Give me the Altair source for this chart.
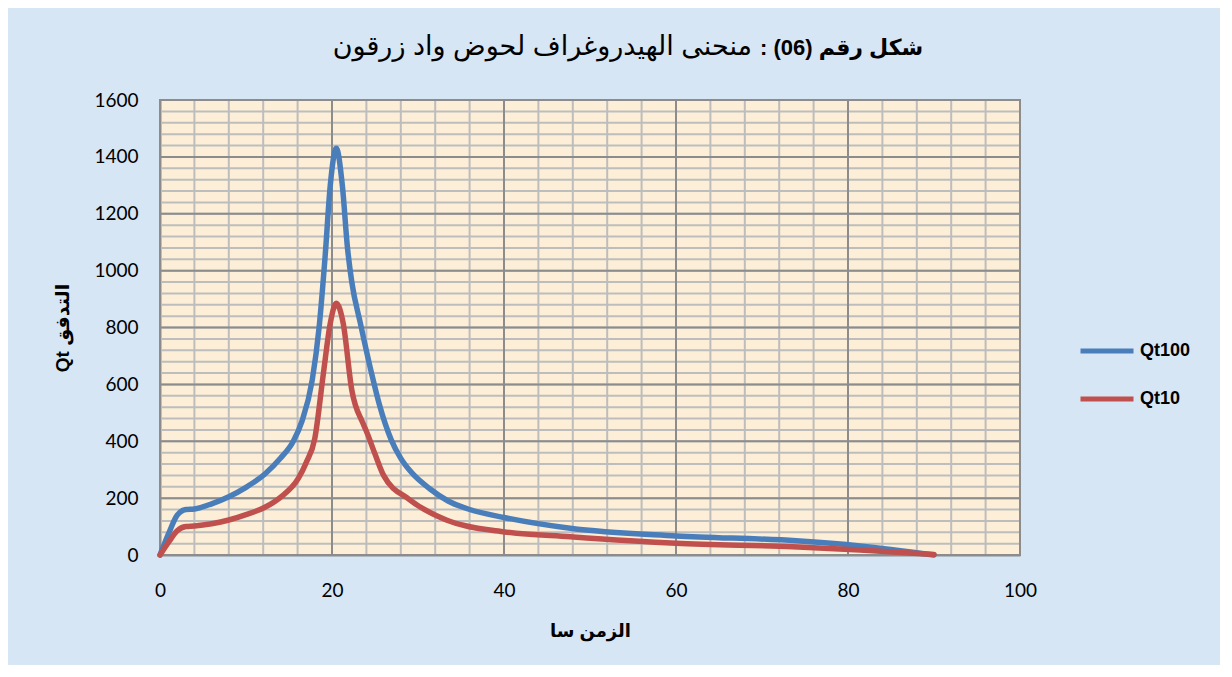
import altair as alt
import pandas as pd

# ---- data ----
t_q100 = [0, 1, 2, 3, 4, 6, 8, 10, 12.2, 14, 15.5, 16.5, 17.7, 18.5, 19.2, 19.8, 20.5, 21.2, 21.8, 22.3,
          23.3, 24.6, 25.5, 26.9, 28, 29.1, 31.4, 33.5, 36, 40, 47.7, 60, 74, 81.4, 90]
q100 = [0, 75, 140, 160, 162, 180, 205, 238, 285, 340, 400, 470, 615, 800, 1050, 1300, 1430, 1300, 1080, 960,
        815, 639, 530, 404, 340, 295, 232, 190, 160, 132, 94, 67, 50, 32, 0]

t_q10 = [0, 1, 2, 3, 4, 6, 8, 10, 12.2, 14, 16.1, 17, 18, 19, 19.8, 20.5, 21.3, 22.3, 23.6, 24, 25, 26,
         29, 33.3, 39.9, 47.7, 60, 73.6, 81.4, 90]
q10 = [0, 45, 85, 100, 102, 110, 123, 142, 168, 203, 270, 325, 410, 639, 815, 885, 815, 580, 463, 435, 355, 280,
       195, 123, 82, 64, 41, 29, 18, 2]

series_names = ["Qt100", "Qt10"]
series_colors = ["#4A7EBB", "#C0504D"]

x_major = [0, 20, 40, 60, 80, 100]
y_major = [0, 200, 400, 600, 800, 1000, 1200, 1400, 1600]
x_minor = list(range(0, 101, 4))
y_minor = list(range(0, 1601, 40))

title_bold = "شكل رقم (06) :\u200f"
title_rest = "منحنى الهيدروغراف لحوض واد زرقون"
x_title = "الزمن  سا"
y_title = "Qt  التدفق"

df = pd.concat([
    pd.DataFrame({"t": t_q100, "q": q100, "s": "Qt100"}),
    pd.DataFrame({"t": t_q10, "q": q10, "s": "Qt10"}),
], ignore_index=True)

xs = alt.Scale(domain=[0, 100], nice=False)
ys = alt.Scale(domain=[0, 1600], nice=False)

minor_col = "#BDBDBD"
major_col = "#8C8C8C"

x_axis = alt.Axis(values=x_major, format="d", grid=False, ticks=False, domain=True, domainColor=major_col,
                  domainWidth=2, labelPadding=26, titlePadding=22, labelFlush=False)
y_axis = alt.Axis(values=y_major, format="d", grid=False, ticks=False, domain=True, domainColor=major_col,
                  domainWidth=2, labelPadding=22, titlePadding=21, labelFlush=False, titleFontSize=19)

vminor = alt.Chart(pd.DataFrame({"v": x_minor})).mark_rule(color=minor_col, strokeWidth=2).encode(
    x=alt.X("v:Q", scale=xs, axis=x_axis, title=x_title))
hminor = alt.Chart(pd.DataFrame({"v": y_minor})).mark_rule(color=minor_col, strokeWidth=2).encode(
    y=alt.Y("v:Q", scale=ys, axis=y_axis, title=y_title))
vmajor = alt.Chart(pd.DataFrame({"v": x_major})).mark_rule(color=major_col, strokeWidth=2).encode(
    x=alt.X("v:Q", scale=xs, axis=x_axis, title=x_title))
hmajor = alt.Chart(pd.DataFrame({"v": y_major})).mark_rule(color=major_col, strokeWidth=2).encode(
    y=alt.Y("v:Q", scale=ys, axis=y_axis, title=y_title))

lines = alt.Chart(df).mark_line(strokeWidth=5.5, interpolate="monotone", strokeCap="round",
                                strokeJoin="round").encode(
    x=alt.X("t:Q", scale=xs, title=x_title, axis=x_axis),
    y=alt.Y("q:Q", scale=ys, title=y_title, axis=y_axis),
    color=alt.Color("s:N", scale=alt.Scale(domain=series_names, range=series_colors),
                    legend=alt.Legend(title=None, orient="none", legendX=918, legendY=222,
                                      symbolType="stroke", symbolSize=2809, symbolStrokeWidth=5,
                                      labelFontSize=18, labelFontWeight="bold", labelColor="black",
                                      labelFont="Liberation Sans", labelOffset=4, rowPadding=9)),
    order=alt.Order("s:N", sort="ascending"),
)

tdf = pd.DataFrame({"a": [title_bold], "b": [title_rest]})
tb = alt.Chart(tdf).mark_text(align="left", baseline="alphabetic", fontSize=22, fontWeight="bold",
                              font="Liberation Sans, DejaVu Sans", color="black").encode(
    text="a:N", x=alt.value(600), y=alt.value(-45))
tr = alt.Chart(tdf).mark_text(align="right", baseline="alphabetic", fontSize=27,
                              font="Liberation Sans, DejaVu Sans", color="black").encode(
    text="b:N", x=alt.value(592), y=alt.value(-45))

chart = alt.layer(vminor, hminor, vmajor, hmajor, lines, tb, tr).properties(
    width=860, height=455,
    padding={"left": 152, "top": 92, "right": 200, "bottom": 110},
    autosize=alt.AutoSizeParams(type="none"),
    background="#D7E6F5",
).configure_view(
    fill="#FDEFD7", stroke="#8C8C8C", strokeWidth=2,
).configure_axis(
    labelFont="Lato", labelFontSize=19, labelColor="black",
    titleFont="Liberation Sans, DejaVu Sans", titleFontSize=18, titleFontWeight="bold", titleColor="black",
)

chart.save("out.html", embed_options={"renderer": "svg", "actions": False})
